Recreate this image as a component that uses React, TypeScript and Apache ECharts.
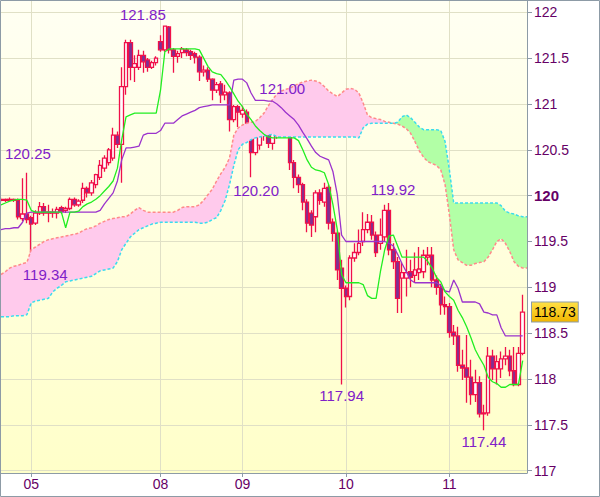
import React, { useEffect, useRef } from "react";
import * as echarts from "echarts";

// hourly sessions: [day, first hour, last hour]
const sessions: [string, number, number][] = [
  ["04", 17, 23], ["05", 0, 23], ["06", 0, 5], ["08", 5, 23],
  ["09", 0, 23], ["10", 0, 23], ["11", 0, 18],
];
const labelledDays = ["05", "08", "09", "10", "11"];
const yTicks = [117, 117.5, 118, 118.5, 119, 119.5, 120, 120.5, 121, 121.5, 122];

const opens = [119.95,119.96,119.95,119.96,119.95,119.75,119.80,119.76,119.70,119.81,119.88,119.82,119.81,119.81,119.87,119.84,119.86,119.96,119.90,119.95,120.08,120.03,120.12,120.20,120.30,120.36,120.41,120.66,120.56,121.19,121.67,121.40,121.40,121.53,121.48,121.40,121.45,121.68,121.59,121.84,121.59,121.52,121.56,121.59,121.57,121.55,121.51,121.35,121.37,121.27,121.15,121.22,121.10,121.12,120.83,120.97,120.89,120.91,120.77,120.47,120.55,120.68,120.68,120.57,120.68,120.97,120.79,120.77,120.36,120.20,120.12,119.93,119.81,119.77,120.03,119.93,120.09,119.71,119.59,119.21,118.99,118.90,119.32,119.38,119.50,119.63,119.71,119.57,119.48,119.55,119.84,119.41,119.28,119.10,119.10,119.17,119.13,119.16,119.17,119.33,119.35,119.08,119.00,118.81,118.79,118.51,118.47,118.15,118.12,118.02,117.83,117.96,117.62,117.63,118.25,118.11,118.11,118.22,118.25,118.09,117.94,118.28];
const closes = [119.96,119.95,119.96,119.95,119.77,119.80,119.74,119.69,119.81,119.88,119.81,119.81,119.82,119.85,119.83,119.86,119.96,119.90,119.94,120.08,120.03,120.14,120.23,120.33,120.41,120.50,120.66,120.56,121.19,121.67,121.40,121.44,121.53,121.46,121.40,121.45,121.50,121.59,121.85,121.59,121.52,121.55,121.60,121.56,121.53,121.51,121.35,121.37,121.27,121.15,121.21,121.10,121.13,120.83,120.97,120.91,120.93,120.75,120.47,120.64,120.77,120.79,120.57,120.68,120.97,120.79,120.75,120.36,120.20,120.12,119.93,119.70,119.68,120.03,119.95,120.08,119.70,119.59,119.19,118.99,118.90,119.32,119.38,119.48,119.63,119.71,119.57,119.38,119.57,119.84,119.41,119.28,118.88,119.16,119.16,119.11,119.19,119.20,119.35,119.35,119.08,119.00,118.81,118.79,118.51,118.47,118.15,118.12,118.02,117.83,117.96,117.62,117.63,118.25,118.11,118.19,118.22,118.25,118.09,117.94,118.28,118.73];
const lows = [119.93,119.93,119.94,119.93,119.74,119.72,119.70,119.34,119.68,119.79,119.78,119.71,119.76,119.75,119.80,119.81,119.84,119.88,119.88,119.92,119.98,120.00,120.08,120.17,120.26,120.33,120.38,120.52,120.14,121.10,121.26,121.24,121.37,121.34,121.35,121.38,121.42,121.57,121.57,121.55,121.34,121.45,121.50,121.52,121.48,121.44,121.25,121.30,121.24,121.04,121.12,121.01,121.04,120.70,120.80,120.75,120.85,120.70,120.20,120.44,120.50,120.60,120.52,120.50,120.62,120.75,120.68,120.28,120.08,120.03,119.84,119.60,119.55,119.60,119.90,119.88,119.63,119.50,119.08,117.94,118.78,118.86,119.28,119.35,119.45,119.59,119.52,119.33,119.41,119.50,119.35,119.20,118.72,118.72,118.90,119.00,119.05,119.08,119.10,119.24,119.00,118.92,118.70,118.70,118.45,118.37,118.08,117.99,117.74,117.72,117.75,117.58,117.44,117.60,117.99,117.94,118.01,118.15,118.03,117.92,117.92,118.26];
const highs = [119.98,119.97,119.98,119.97,119.97,120.19,120.25,119.78,119.84,119.93,119.92,119.90,119.86,119.88,119.89,119.88,119.98,119.98,119.96,120.14,120.10,120.17,120.24,120.39,120.44,120.52,120.74,120.70,121.40,121.70,121.70,121.53,121.59,121.58,121.50,121.47,121.52,121.75,121.85,121.85,121.61,121.58,121.62,121.61,121.59,121.57,121.53,121.42,121.40,121.28,121.24,121.25,121.21,121.14,120.99,120.99,120.98,120.94,120.79,120.72,120.80,120.83,120.74,120.72,120.99,121.00,120.83,120.79,120.39,120.23,120.14,119.96,119.84,120.06,120.07,120.14,120.12,119.75,119.62,119.30,119.02,119.35,119.48,119.63,119.82,119.80,119.79,119.61,119.75,119.90,119.92,119.48,119.33,119.27,119.41,119.30,119.38,119.44,119.41,119.44,119.44,119.13,119.04,118.90,118.83,118.59,118.57,118.32,118.48,118.21,118.10,118.03,117.72,118.35,118.32,118.26,118.30,118.35,118.32,118.35,118.35,118.92];

const tenkan = [119.90,119.92,119.94,119.95,119.96,119.96,119.95,119.84,119.82,119.82,119.82,119.82,119.82,119.82,119.82,119.65,119.82,119.82,119.83,119.88,119.91,119.93,119.96,120.00,120.05,120.10,120.16,120.30,120.61,120.86,120.88,120.90,120.90,120.90,120.90,120.90,120.90,121.15,121.57,121.60,121.60,121.60,121.60,121.60,121.60,121.60,121.59,121.50,121.41,121.35,121.33,121.32,121.26,121.19,121.11,121.03,120.97,120.89,120.83,120.76,120.71,120.67,120.64,120.63,120.63,120.63,120.63,120.63,120.63,120.60,120.50,120.39,120.31,120.28,120.27,120.25,120.12,119.90,119.63,119.14,119.05,119.05,119.05,119.05,119.03,118.91,118.88,118.88,119.17,119.41,119.56,119.57,119.45,119.33,119.33,119.33,119.33,119.33,119.33,119.28,119.21,119.11,119.06,118.95,118.90,118.86,118.75,118.67,118.57,118.45,118.32,118.23,118.15,118.02,117.97,117.95,117.91,117.91,117.94,117.94,117.94,118.20];
const kijun = [119.63,119.64,119.64,119.65,119.65,119.71,119.81,119.82,119.82,119.82,119.82,119.82,119.82,119.82,119.82,119.82,119.82,119.82,119.82,119.82,119.82,119.82,119.82,119.84,119.91,119.97,120.03,120.16,120.39,120.52,120.52,120.53,120.54,120.66,120.68,120.68,120.68,120.71,120.79,120.79,120.79,120.83,120.87,120.89,120.91,120.93,120.96,120.97,120.98,120.99,120.99,120.99,120.99,120.99,121.26,121.27,121.27,121.23,121.12,121.04,121.04,121.04,121.03,121.03,121.00,120.96,120.91,120.87,120.83,120.77,120.69,120.62,120.54,120.47,120.43,120.41,120.39,120.26,120.01,119.57,119.50,119.50,119.50,119.50,119.50,119.50,119.50,119.50,119.50,119.50,119.48,119.45,119.36,119.26,119.17,119.08,119.05,119.05,119.05,119.05,119.05,119.05,119.02,118.96,118.95,119.08,118.99,118.84,118.84,118.84,118.84,118.82,118.73,118.72,118.70,118.70,118.56,118.47,118.47,118.47,118.47,118.47];
const spanA = [119.14,119.17,119.21,119.23,119.24,119.26,119.27,119.41,119.44,119.47,119.50,119.52,119.53,119.54,119.55,119.56,119.57,119.58,119.59,119.62,119.64,119.65,119.67,119.70,119.72,119.74,119.75,119.76,119.77,119.77,119.80,119.84,119.87,119.84,119.82,119.82,119.82,119.82,119.82,119.82,119.82,119.84,119.87,119.88,119.88,119.88,119.90,119.95,120.01,120.07,120.16,120.24,120.31,120.41,120.66,120.74,120.77,120.79,120.80,120.81,120.85,120.90,120.98,121.05,121.11,121.14,121.16,121.17,121.20,121.22,121.24,121.25,121.26,121.25,121.23,121.19,121.14,121.11,121.08,121.12,121.16,121.17,121.16,121.12,121.01,120.88,120.85,120.84,120.83,120.81,120.80,120.79,120.78,120.76,120.73,120.68,120.59,120.49,120.42,120.37,120.35,120.33,120.28,120.12,119.79,119.41,119.30,119.27,119.24,119.24,119.26,119.27,119.28,119.33,119.41,119.50,119.53,119.48,119.39,119.28,119.23,119.21,119.21];
const spanB = [118.68,118.68,118.68,118.69,118.69,118.69,118.70,118.83,118.85,118.86,118.87,118.88,118.95,118.99,119.02,119.06,119.07,119.08,119.09,119.10,119.11,119.12,119.15,119.18,119.19,119.20,119.21,119.28,119.41,119.48,119.55,119.59,119.63,119.65,119.67,119.69,119.70,119.71,119.71,119.71,119.71,119.71,119.71,119.71,119.71,119.71,119.70,119.70,119.71,119.74,119.76,119.84,119.95,120.12,120.33,120.50,120.56,120.58,120.61,120.63,120.64,120.65,120.66,120.67,120.64,120.64,120.64,120.64,120.64,120.64,120.64,120.64,120.64,120.64,120.64,120.64,120.64,120.64,120.64,120.64,120.64,120.64,120.64,120.63,120.74,120.78,120.79,120.79,120.79,120.79,120.79,120.79,120.80,120.86,120.88,120.85,120.80,120.75,120.72,120.72,120.72,120.72,120.71,120.59,120.28,119.92,119.92,119.92,119.92,119.92,119.92,119.92,119.92,119.92,119.92,119.92,119.89,119.83,119.81,119.80,119.78,119.77,119.77];

// annotated extremes: bar index and price
const noteIndex = [38, 6, 7, 65, 58, 90, 79, 112];
const notePrice = [121.85, 120.25, 119.34, 121.0, 120.2, 119.92, 117.94, 117.44];
const lastPrice = 118.73;

const categories: string[] = [];
sessions.forEach(([d, h0, h1]) => {
  for (let h = h0; h <= h1; h++) categories.push(`${d} ${String(h).padStart(2, "0")}:00`);
});
const dayStart = new Set<number>();
categories.forEach((c, i) => {
  const d = c.slice(0, 2);
  if (labelledDays.includes(d) && (i === 0 || categories[i - 1].slice(0, 2) !== d)) dayStart.add(i);
});

const FONT = "Liberation Sans, Arial, sans-serif";
const noteOffsets: [number, number][] = [
  [-22, -12], [1, -19], [14, 18], [1, -15], [5, 13], [4, -13], [0, 11], [0, 11],
];

export default function App() {
  const ref = useRef<HTMLDivElement>(null);
  useEffect(() => {
    if (!ref.current) return;
    const chart = echarts.init(ref.current, undefined, { renderer: "svg" });
    const candles = opens.map((o, i) => [o, closes[i], lows[i], highs[i]]);
    const base = spanA.map((a, i) => Math.min(a, spanB[i]));
    const pink = spanA.map((a, i) => (a > spanB[i] ? a - spanB[i] : 0));
    const green = spanA.map((a, i) => (spanB[i] > a ? spanB[i] - a : 0));
    const axisGray = "#8d9ba6";
    const labelColor = "#660066";
    const dayInterval = (index: number) => dayStart.has(index);

    chart.setOption({
      animation: false,
      graphic: [
        {
          type: "rect",
          shape: { x: 0.5, y: 0.5, width: 599, height: 496 },
          style: { fill: "none", stroke: axisGray, lineWidth: 1 },
          z: 100,
          silent: true,
        },
      ],
      grid: {
        left: 1, top: 1, right: 73, bottom: 24, show: true, borderWidth: 0,
        backgroundColor: new echarts.graphic.LinearGradient(0, 0, 0, 1, [
          { offset: 0, color: "#fffff3" },
          { offset: 1, color: "#ffffc9" },
        ]),
      },
      xAxis: {
        type: "category",
        data: categories,
        boundaryGap: false,
        axisLine: { lineStyle: { color: axisGray, width: 1 } },
        axisTick: { interval: dayInterval, length: 4, lineStyle: { color: axisGray } },
        axisLabel: {
          interval: dayInterval,
          formatter: (v: string) => v.slice(0, 2),
          color: labelColor, fontSize: 14, fontFamily: FONT, margin: 4,
        },
        splitLine: { show: true, interval: dayInterval, lineStyle: { color: "#e0e0c6", width: 1 } },
      },
      yAxis: {
        type: "value",
        position: "right",
        min: 116.975,
        max: 122.123,
        axisLine: { show: true, lineStyle: { color: axisGray, width: 1 } },
        axisTick: { show: true, length: 5, customValues: yTicks, lineStyle: { color: axisGray } },
        axisLabel: {
          customValues: yTicks,
          margin: 7,
          color: labelColor, fontSize: 14, fontFamily: FONT,
          formatter: (v: number) => (v === 120 ? "{b|120}" : String(v)),
          rich: { b: { fontWeight: "bold", fontSize: 15, color: labelColor, fontFamily: FONT } },
        },
        splitLine: { show: true, lineStyle: { color: "#e0e0c6", width: 1 } },
      },
      series: [
        {
          type: "line", stack: "kumo", data: base, symbol: "none", silent: true,
          lineStyle: { width: 0, opacity: 0 },
        },
        {
          type: "line", stack: "kumo", data: pink, symbol: "none", silent: true,
          lineStyle: { width: 0, opacity: 0 },
          areaStyle: { color: "#ffcaec", opacity: 1 },
        },
        {
          type: "line", stack: "kumo", data: green, symbol: "none", silent: true,
          lineStyle: { width: 0, opacity: 0 },
          areaStyle: { color: "#b2ffa6", opacity: 1 },
        },
        {
          type: "line", data: spanA, symbol: "none", silent: true,
          lineStyle: { color: "#ff8a8a", width: 1.5, type: [3, 2] },
        },
        {
          type: "line", data: spanB, symbol: "none", silent: true,
          lineStyle: { color: "#3adcee", width: 1.5, type: [3, 2] },
        },
        {
          type: "candlestick",
          data: candles,
          barWidth: 4,
          itemStyle: {
            color: "#ffffff",
            color0: "#7d3094",
            borderColor: "#f0104a",
            borderColor0: "#f0104a",
            borderWidth: 1.3,
          },
        },
        {
          type: "line", data: kijun, symbol: "none", silent: true, clip: false,
          lineStyle: { color: "#9b33cc", width: 1.3 },
          markPoint: {
            symbol: "circle", symbolSize: 1, silent: true,
            itemStyle: { color: "rgba(0,0,0,0)" },
            label: { show: true, position: "inside", color: "#8020c8", fontSize: 15, fontFamily: FONT },
            data: noteIndex.map((idx, k) => ({
              name: notePrice[k].toFixed(2),
              coord: [categories[idx], notePrice[k]],
              label: { formatter: notePrice[k].toFixed(2), offset: noteOffsets[k] },
            })),
          },
          markLine: {
            symbol: ["none", "none"], silent: true,
            lineStyle: { color: "rgba(0,0,0,0)" },
            label: {
              show: true, position: "end", distance: 5,
              formatter: lastPrice.toFixed(2),
              color: "#000", fontSize: 14, fontFamily: FONT,
              backgroundColor: new echarts.graphic.LinearGradient(0, 0, 0, 1, [
                { offset: 0, color: "#ffe044" },
                { offset: 1, color: "#f2b600" },
              ]),
              borderColor: axisGray, borderWidth: 1,
              padding: [3, 2, 2, 2],
            },
            data: [{ yAxis: lastPrice }],
          },
        },
        {
          type: "line", data: tenkan, symbol: "none", silent: true,
          lineStyle: { color: "#22ee22", width: 1.3 },
        },
      ],
    });
    return () => chart.dispose();
  }, []);
  return (
    <div
      ref={ref}
      style={{ position: "absolute", left: 0, top: 0, width: 600, height: 497, background: "#fff" }}
    />
  );
}
